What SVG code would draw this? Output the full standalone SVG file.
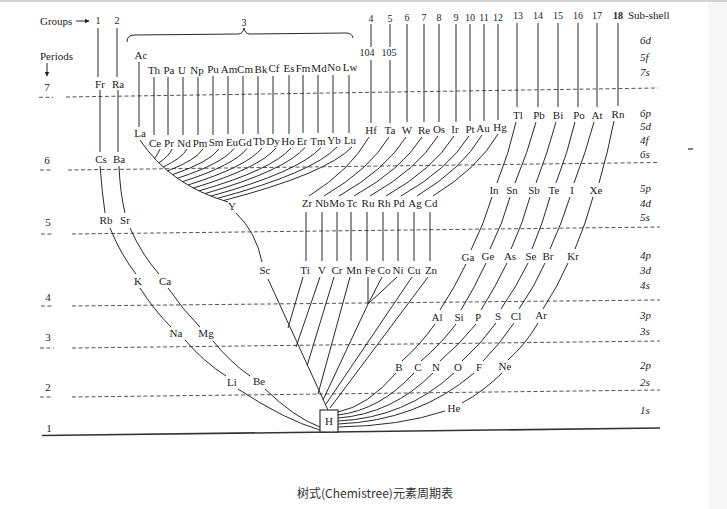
<svg xmlns="http://www.w3.org/2000/svg" width="727" height="509" viewBox="0 0 727 509">
<defs>
<marker id="ah" viewBox="0 0 10 10" refX="9" refY="5" markerWidth="5" markerHeight="5" orient="auto"><path d="M0,0 L10,5 L0,10 z" fill="#222"/></marker>
<style>
text{fill:#222;font-family:"Liberation Serif","Times New Roman",serif}
.el{font-size:11px;text-anchor:middle}
.hd{font-size:11px}
.num{font-size:10px;text-anchor:middle}
.sub{font-size:11px;font-style:italic}
.per{font-size:11px;text-anchor:middle}
.ln{fill:none;stroke:#2a2a2a;stroke-width:1}
.dash{fill:none;stroke:#555;stroke-width:1;stroke-dasharray:4 2.5}
.cap{font-family:"Noto Sans CJK SC","Noto Sans",sans-serif;font-size:12px;fill:#333}
</style>
</defs>
<rect width="727" height="509" fill="#fff"/>
<rect x="708" y="0" width="19" height="509" fill="#f6f6f6"/>
<line x1="0" y1="1" x2="727" y2="1" stroke="#d2d2d2" stroke-width="2"/>

<g id="header">
<text class="hd" x="40" y="25">Groups</text>
<path class="ln" d="M76,21 H89" marker-end="url(#ah)"/>
<text class="num" x="98" y="24">1</text>
<text class="num" x="117" y="24">2</text>
<text class="num" x="244" y="26">3</text>
<path class="ln" d="M127,42 Q127,35 134,35 L238,34 Q243,34 244,28 Q245,34 250,34 L346,33 Q352,33 353,38"/>
<text class="num" x="371" y="22">4</text>
<text class="num" x="390" y="22">5</text>
<text class="num" x="407" y="21">6</text>
<text class="num" x="424" y="21">7</text>
<text class="num" x="439" y="21">8</text>
<text class="num" x="456" y="21">9</text>
<text class="num" x="470" y="21">10</text>
<text class="num" x="484" y="21">11</text>
<text class="num" x="498" y="21">12</text>
<text class="num" x="518" y="19">13</text>
<text class="num" x="538" y="19">14</text>
<text class="num" x="558" y="19">15</text>
<text class="num" x="578" y="19">16</text>
<text class="num" x="597" y="19">17</text>
<text class="num" x="618" y="19" font-weight="bold">18</text>
<text class="hd" x="628" y="19">Sub-shell</text>
<text class="num" x="367" y="56" font-size="9.5">104</text>
<text class="num" x="389" y="56" font-size="9.5">105</text>
<text class="hd" x="40" y="60">Periods</text>
<path class="ln" d="M47,63 V76" marker-end="url(#ah)"/>
</g>

<g id="periods">
<text class="per" x="47" y="91">7</text>
<text class="per" x="47" y="164">6</text>
<text class="per" x="48" y="226">5</text>
<text class="per" x="48" y="301">4</text>
<text class="per" x="48" y="341">3</text>
<text class="per" x="48" y="391">2</text>
<text class="per" x="49" y="432">1</text>
<path class="dash" d="M39,97.3 H53 M66,97 L658,88"/>
<path class="dash" d="M40,170 H53 M68,170 L658,162.5"/>
<path class="dash" d="M41,234 H53 M72,234 L660,227"/>
<path class="dash" d="M41,306 H53 M72,306 L660,300"/>
<path class="dash" d="M40,348 H54 M72,348 L660,341"/>
<path class="dash" d="M40,397 H53 M72,397 L660,390"/>
<path d="M42,435.5 L660,428" fill="none" stroke="#333" stroke-width="1.6"/>
<path d="M688,149 H693" stroke="#555" stroke-width="1.5"/>
</g>

<g id="subshells">
<text class="sub" x="640" y="44">6d</text>
<text class="sub" x="640" y="61">5f</text>
<text class="sub" x="640" y="76">7s</text>
<text class="sub" x="640" y="117">6p</text>
<text class="sub" x="640" y="130">5d</text>
<text class="sub" x="640" y="144">4f</text>
<text class="sub" x="640" y="158">6s</text>
<text class="sub" x="640" y="192">5p</text>
<text class="sub" x="640" y="207">4d</text>
<text class="sub" x="640" y="221">5s</text>
<text class="sub" x="640" y="259">4p</text>
<text class="sub" x="640" y="274">3d</text>
<text class="sub" x="640" y="289">4s</text>
<text class="sub" x="640" y="319">3p</text>
<text class="sub" x="640" y="335">3s</text>
<text class="sub" x="640" y="369">2p</text>
<text class="sub" x="640" y="386">2s</text>
<text class="sub" x="640" y="414">1s</text>
</g>

<g id="connectors" class="ln">
<path class="ln" d="M98,28 V77 M117,28 V77 M371,24 V47 M371,60 V123 M390,24 V47 M390,60 V123 M407,24 V122 M424,24 V122 M439,24 V122 M456,24 V122 M470,24 V121 M484,24 V121 M498,24 V120 M517,23 V107 M538,23 V107 M558,23 V107 M578,23 V107 M597,23 V107 M618,23 V106"/>
<path class="ln" d="M100,90 V152 M118,90 V152 M100,166 Q102,192 105,213 M119,166 Q120,192 125,213 M110,228 Q121,255 136,274 M130,228 Q142,255 159,274 M140,288 Q154,310 171,327 M168,288 Q183,310 200,327 M185,340 Q204,362 226,376 M213,341 Q230,362 250,376 M238,389 Q285,420 320,430 M265,389 Q295,418 320,427"/>
<path class="ln" d="M139,62 V127 M154,77 V135 M168,77 V135 M183,77 V135 M198,77 V135 M213,76 V135 M228,76 V134 M243,76 V134 M258,76 V134 M273,76 V134 M289,75 V134 M303,75 V133 M318,75 V133 M333,75 V133 M349,75 V133"/>
<path class="ln" d="M140,140 Q170,185 228,202"/>
<path class="ln" d="M160,149 Q158,154 154.6,158.5 M172,149 Q169.4,156 158.8,162.8 M187,149 Q182.2,158 163.2,167 M203,149 Q195.9,160 167.7,170.9 M219,149 Q209.7,162 172.5,174.7 M234,148.5 Q222.7,163.4 177.4,178.3 M247,148.5 Q234.1,165.1 182.5,181.7 M262,148 Q247.2,166.5 187.9,185 M276,148 Q259.5,168 193.4,188 M291,148 Q272.6,169.5 199,190.9 M305,147.5 Q285,170.6 204.9,193.6 M321,147.5 Q299,171.8 210.9,196.1 M337,147 Q313,172.7 217.1,198.5 M352,147 Q326.3,173.8 223.4,200.6"/>
<path class="ln" d="M236,213 Q256,232 262,262 M268,279 L328,410"/>
<path class="ln" d="M369,137 Q351,169.5 309,196 M389,137 Q369.5,169.5 324,196 M406,137 Q385.9,169.5 339,196 M422,137 Q401.6,169.5 354,196 M438,136 Q417.6,169 370,196 M454,136 Q433.6,169 386,196 M469,136 Q448.6,169 401,196 M482,135 Q462.5,168.5 417,196 M498,134 Q478.5,168 433,196"/>
<path class="ln" d="M306,212 V261 M322,212 V261 M337,212 V261 M351,212 V261 M367,212 V261 M383,212 V261 M398,212 V261 M414,212 V261 M430,212 V261"/>
<path class="ln" d="M303,277 L288,328 M320,277 L296,347 M334,277 L307,366 M350,277 L318,394 M368,277 L368,304 M382,277 L368,304 M397,277 L368,304 M368,304 L323,400 M412,277 L326,404 M428,277 L330,408"/>
<path class="ln" d="M516,122 Q509.5,152 497,183 M536,122 Q528,152 515,183 M556,122 Q548,152 536,183 M575,122 Q568,152 556,183 M594,122 Q586,152 574,183 M614,121 Q608,152 599,183"/>
<path class="ln" d="M492,197 Q484,224 471,250 M510,197 Q503,223 490,249 M530,197 Q523,223 511,249 M550,197 Q543,223 532,249 M570,197 Q562,223 550,249 M593,197 Q586,223 575,249"/>
<path class="ln" d="M466,264 Q455,287 440,310 M486,263 Q475,287 461,310 M507,263 Q496,286 481,310 M528,263 Q517,286 501,309 M545,263 Q535,286 519,309 M568,263 Q558,286 543,309"/>
<path class="ln" d="M435,324 Q421,344 402,361 M456,324 Q441,344 421,361 M476,324 Q460,344 440,361 M496,323 Q481,344 462,361 M514,323 Q500,344 483,361 M538,323 Q526,344 508,360"/>
<path class="ln" d="M502,373 Q484,391 462,403 M396,373 Q368,406 338,412 M414,373 Q380,410 338,415 M433,373 Q392,414 338,418 M454,373 Q405,418 338,421 M474,373 Q418,421 338,424 M445,411 Q400,426 338,427"/>
</g>

<g id="H"><rect x="320" y="410" width="18" height="22" fill="#fff" stroke="#222" stroke-width="1.1"/><text class="el" x="329" y="425">H</text></g>

<g id="s-block">
<g id="el-Fr"><text class="el" x="100" y="88">Fr</text></g>
<g id="el-Ra"><text class="el" x="118" y="88">Ra</text></g>
<g id="el-Cs"><text class="el" x="101" y="163">Cs</text></g>
<g id="el-Ba"><text class="el" x="119" y="163">Ba</text></g>
<g id="el-Rb"><text class="el" x="106" y="224">Rb</text></g>
<g id="el-Sr"><text class="el" x="125" y="224">Sr</text></g>
<g id="el-K"><text class="el" x="138" y="285">K</text></g>
<g id="el-Ca"><text class="el" x="165" y="285">Ca</text></g>
<g id="el-Na"><text class="el" x="176" y="337">Na</text></g>
<g id="el-Mg"><text class="el" x="206" y="337">Mg</text></g>
<g id="el-Li"><text class="el" x="232" y="386">Li</text></g>
<g id="el-Be"><text class="el" x="259" y="385">Be</text></g>
</g>

<g id="f-block">
<g id="el-Ac"><text class="el" x="141" y="59">Ac</text></g>
<g id="el-Th"><text class="el" x="154" y="74">Th</text></g>
<g id="el-Pa"><text class="el" x="169" y="74">Pa</text></g>
<g id="el-U"><text class="el" x="182" y="73.5">U</text></g>
<g id="el-Np"><text class="el" x="197" y="73.5">Np</text></g>
<g id="el-Pu"><text class="el" x="213" y="73">Pu</text></g>
<g id="el-Am"><text class="el" x="229" y="73">Am</text></g>
<g id="el-Cm"><text class="el" x="245" y="72.5">Cm</text></g>
<g id="el-Bk"><text class="el" x="261" y="72.5">Bk</text></g>
<g id="el-Cf"><text class="el" x="274" y="72">Cf</text></g>
<g id="el-Es"><text class="el" x="289" y="72">Es</text></g>
<g id="el-Fm"><text class="el" x="303" y="71.5">Fm</text></g>
<g id="el-Md"><text class="el" x="319" y="71.5">Md</text></g>
<g id="el-No"><text class="el" x="334" y="71">No</text></g>
<g id="el-Lw"><text class="el" x="350" y="71">Lw</text></g>
<g id="el-La"><text class="el" x="140" y="137">La</text></g>
<g id="el-Ce"><text class="el" x="155" y="147">Ce</text></g>
<g id="el-Pr"><text class="el" x="169" y="147">Pr</text></g>
<g id="el-Nd"><text class="el" x="184" y="146.5">Nd</text></g>
<g id="el-Pm"><text class="el" x="200" y="146.5">Pm</text></g>
<g id="el-Sm"><text class="el" x="216" y="146">Sm</text></g>
<g id="el-Eu"><text class="el" x="232" y="146">Eu</text></g>
<g id="el-Gd"><text class="el" x="245" y="145.5">Gd</text></g>
<g id="el-Tb"><text class="el" x="259" y="145">Tb</text></g>
<g id="el-Dy"><text class="el" x="273" y="145">Dy</text></g>
<g id="el-Ho"><text class="el" x="288" y="145">Ho</text></g>
<g id="el-Er"><text class="el" x="302" y="144.5">Er</text></g>
<g id="el-Tm"><text class="el" x="318" y="144.5">Tm</text></g>
<g id="el-Yb"><text class="el" x="334" y="144">Yb</text></g>
<g id="el-Lu"><text class="el" x="350" y="144">Lu</text></g>
</g>

<g id="d-block">
<g id="el-Y"><text class="el" x="232" y="210">Y</text></g>
<g id="el-Sc"><text class="el" x="265" y="274">Sc</text></g>
<g id="el-Hf"><text class="el" x="371" y="134">Hf</text></g>
<g id="el-Ta"><text class="el" x="390" y="134">Ta</text></g>
<g id="el-W"><text class="el" x="407" y="133.5">W</text></g>
<g id="el-Re"><text class="el" x="424" y="133.5">Re</text></g>
<g id="el-Os"><text class="el" x="439" y="133">Os</text></g>
<g id="el-Ir"><text class="el" x="455" y="133">Ir</text></g>
<g id="el-Pt"><text class="el" x="470" y="132.5">Pt</text></g>
<g id="el-Au"><text class="el" x="483" y="132">Au</text></g>
<g id="el-Hg"><text class="el" x="500" y="131">Hg</text></g>
<g id="el-Zr"><text class="el" x="307" y="207">Zr</text></g>
<g id="el-Nb"><text class="el" x="322" y="207">Nb</text></g>
<g id="el-Mo"><text class="el" x="337" y="207">Mo</text></g>
<g id="el-Tc"><text class="el" x="352" y="207">Tc</text></g>
<g id="el-Ru"><text class="el" x="368" y="207">Ru</text></g>
<g id="el-Rh"><text class="el" x="384" y="207">Rh</text></g>
<g id="el-Pd"><text class="el" x="399" y="207">Pd</text></g>
<g id="el-Ag"><text class="el" x="415" y="207">Ag</text></g>
<g id="el-Cd"><text class="el" x="431" y="207">Cd</text></g>
<g id="el-Ti"><text class="el" x="305" y="274">Ti</text></g>
<g id="el-V"><text class="el" x="322" y="274">V</text></g>
<g id="el-Cr"><text class="el" x="337" y="274">Cr</text></g>
<g id="el-Mn"><text class="el" x="354" y="274">Mn</text></g>
<g id="el-Fe"><text class="el" x="370" y="274">Fe</text></g>
<g id="el-Co"><text class="el" x="384" y="274">Co</text></g>
<g id="el-Ni"><text class="el" x="398" y="274">Ni</text></g>
<g id="el-Cu"><text class="el" x="414" y="274">Cu</text></g>
<g id="el-Zn"><text class="el" x="431" y="274">Zn</text></g>
</g>

<g id="p-block">
<g id="el-Tl"><text class="el" x="518" y="119">Tl</text></g>
<g id="el-Pb"><text class="el" x="539" y="119">Pb</text></g>
<g id="el-Bi"><text class="el" x="558" y="119">Bi</text></g>
<g id="el-Po"><text class="el" x="579" y="119">Po</text></g>
<g id="el-At"><text class="el" x="597" y="119">At</text></g>
<g id="el-Rn"><text class="el" x="618" y="118">Rn</text></g>
<g id="el-In"><text class="el" x="494" y="194">In</text></g>
<g id="el-Sn"><text class="el" x="512" y="194">Sn</text></g>
<g id="el-Sb"><text class="el" x="534" y="194">Sb</text></g>
<g id="el-Te"><text class="el" x="554" y="194">Te</text></g>
<g id="el-I"><text class="el" x="572" y="194">I</text></g>
<g id="el-Xe"><text class="el" x="596" y="194">Xe</text></g>
<g id="el-Ga"><text class="el" x="468" y="261">Ga</text></g>
<g id="el-Ge"><text class="el" x="488" y="260">Ge</text></g>
<g id="el-As"><text class="el" x="510" y="260">As</text></g>
<g id="el-Se"><text class="el" x="531" y="260">Se</text></g>
<g id="el-Br"><text class="el" x="548" y="260">Br</text></g>
<g id="el-Kr"><text class="el" x="573" y="260">Kr</text></g>
<g id="el-Al"><text class="el" x="437" y="321">Al</text></g>
<g id="el-Si"><text class="el" x="459" y="321">Si</text></g>
<g id="el-P"><text class="el" x="478" y="321">P</text></g>
<g id="el-S"><text class="el" x="498" y="320">S</text></g>
<g id="el-Cl"><text class="el" x="516" y="320">Cl</text></g>
<g id="el-Ar"><text class="el" x="541" y="319">Ar</text></g>
<g id="el-B"><text class="el" x="399" y="371">B</text></g>
<g id="el-C"><text class="el" x="418" y="371">C</text></g>
<g id="el-N"><text class="el" x="436" y="371">N</text></g>
<g id="el-O"><text class="el" x="458" y="371">O</text></g>
<g id="el-F"><text class="el" x="479" y="371">F</text></g>
<g id="el-Ne"><text class="el" x="505" y="370">Ne</text></g>
<g id="el-He"><text class="el" x="454" y="412">He</text></g>
</g>

<text class="cap" x="297" y="498" textLength="156" lengthAdjust="spacingAndGlyphs">树式(Chemistree)元素周期表</text>
</svg>
